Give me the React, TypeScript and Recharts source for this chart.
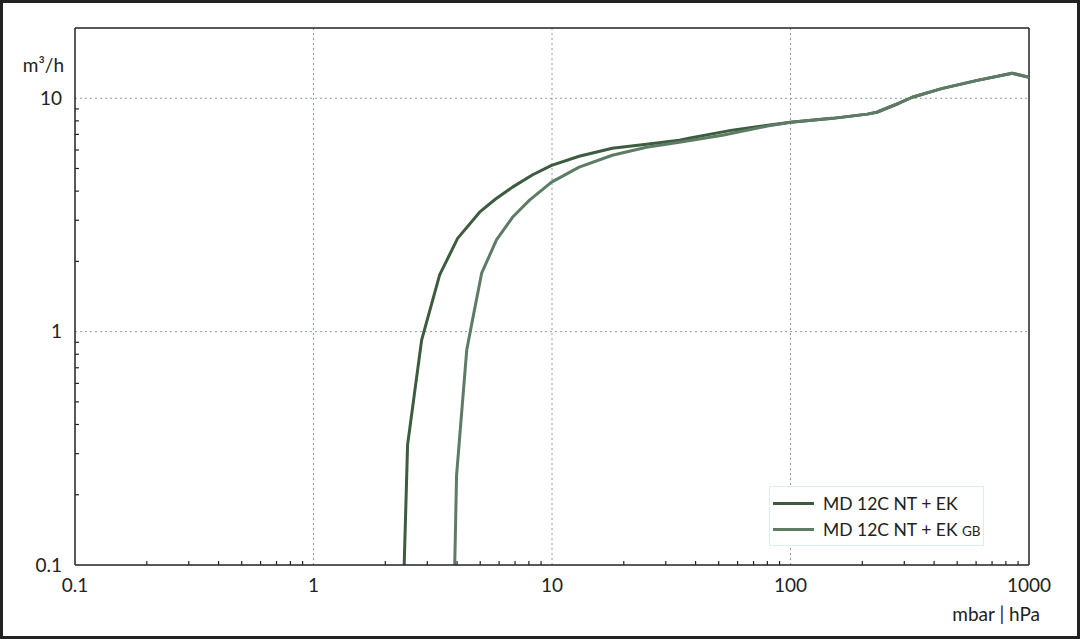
import React from "react"
import { LineChart, Line, XAxis, YAxis, ReferenceLine, Legend } from "recharts"

// pressure in mbar | hPa, flow in m³/h
const pressureA = [2.4, 2.48, 2.84, 3.38, 4.02, 4.97, 5.8, 6.83, 8.3, 9.96, 13, 17.9, 24.9, 34.2, 38, 57, 100, 150, 210, 230, 285, 324, 430, 600, 850, 1000]
const flowA = [0.1, 0.327, 0.92, 1.75, 2.51, 3.25, 3.7, 4.16, 4.7, 5.16, 5.64, 6.11, 6.35, 6.61, 6.76, 7.3, 7.89, 8.2, 8.55, 8.71, 9.52, 10.1, 11.0, 11.9, 12.8, 12.3]

const pressureB = [3.91, 3.98, 4.39, 4.64, 5.07, 5.85, 6.83, 8.05, 9.96, 13, 17.9, 24.9, 34.2, 51.8, 80, 100, 150, 210, 230, 285, 324, 430, 600, 850, 1000]
const flowB = [0.1, 0.243, 0.834, 1.12, 1.78, 2.47, 3.09, 3.66, 4.37, 5.07, 5.7, 6.17, 6.48, 6.94, 7.6, 7.89, 8.2, 8.55, 8.71, 9.52, 10.1, 11.0, 11.9, 12.8, 12.3]

const xDecades = [0.1, 1, 10, 100, 1000]
const yDecades = [0.1, 1, 10]
const xMinor = [0.2, 0.3, 0.4, 0.5, 0.6, 0.7, 0.8, 0.9, 2, 3, 4, 5, 6, 7, 8, 9, 20, 30, 40, 50, 60, 70, 80, 90, 200, 300, 400, 500, 600, 700, 800, 900]
const yMinor = [0.2, 0.3, 0.4, 0.5, 0.6, 0.7, 0.8, 0.9, 2, 3, 4, 5, 6, 7, 8, 9]
const xGrid = [1, 10, 100]
const yGrid = [1, 10]

const nameA = "MD 12C NT + EK"
const nameB = "MD 12C NT + EK GB"

const dataA = pressureA.map((p, i) => ({ p, q: flowA[i] }))
const dataB = pressureB.map((p, i) => ({ p, q: flowB[i] }))
const xTicks = [...xDecades, ...xMinor].sort((a, b) => a - b)
const yTicks = [...yDecades, ...yMinor].sort((a, b) => a - b)

const FONT = "Lato, 'Open Sans', sans-serif"
const INK = "#222"
const GRID = "#8f9c9c"
const X_MARGIN = 13
const Y_MARGIN = 13

function XTick(props: any) {
  const { x, y, payload } = props
  const v = payload.value
  if (xDecades.includes(v)) {
    return (
      <text x={x} y={y} dy="0.75em" textAnchor="middle" fill={INK} fontSize={19} fontFamily={FONT}>
        {String(v)}
      </text>
    )
  }
  const base = y - X_MARGIN
  return <path d={`M${x},${base}V${base - 4}`} stroke={INK} strokeWidth={1.2} fill="none" />
}

function YTick(props: any) {
  const { x, y, payload } = props
  const v = payload.value
  if (yDecades.includes(v)) {
    return (
      <text x={x} y={y} dy="0.36em" textAnchor="end" fill={INK} fontSize={19} fontFamily={FONT}>
        {String(v)}
      </text>
    )
  }
  const base = x + Y_MARGIN
  return <path d={`M${base},${y}H${base + 4}`} stroke={INK} strokeWidth={1.2} fill="none" />
}

function LegendBox({ payload }: any) {
  return (
    <div style={{ border: "1px solid #d6f1f1", padding: "3px 2px 3px 3px", background: "#fff", fontFamily: FONT, fontSize: 17.5, color: INK }}>
      {(payload || []).map((e: any, i: number) => {
        const parts = String(e.value).split(" ")
        const last = parts[parts.length - 1]
        const small = last === "GB"
        return (
          <div key={i} style={{ display: "flex", alignItems: "center", height: 26 }}>
            <span style={{ width: 41, height: 3, background: e.color, display: "inline-block", marginRight: 9 }} />
            <span>
              {small ? parts.slice(0, -1).join(" ") + " " : e.value}
              {small && <span style={{ fontSize: 13.5 }}>{last}</span>}
            </span>
          </div>
        )
      })}
    </div>
  )
}

export default function App() {
  return (
    <div style={{ position: "absolute", left: 0, top: 0, width: 1080, height: 639, boxSizing: "border-box", border: "3px solid #222", background: "#fff" }}>
      <div style={{ position: "absolute", left: -3, top: -3 }}>
        <LineChart width={1080} height={639} margin={{ top: 28, right: 51, bottom: 44, left: 0 }}>
          {xGrid.map((v) => (
            <ReferenceLine key={"gx" + v} x={v} stroke={GRID} strokeDasharray="2 3" />
          ))}
          {yGrid.map((v) => (
            <ReferenceLine key={"gy" + v} y={v} stroke={GRID} strokeDasharray="2 3" />
          ))}
          <XAxis
            dataKey="p"
            type="number"
            scale="log"
            domain={[0.1, 1000]}
            allowDataOverflow
            ticks={xTicks}
            interval={0}
            tickLine={false}
            tickSize={0}
            tickMargin={X_MARGIN}
            height={30}
            axisLine={{ stroke: INK, strokeWidth: 1.5 }}
            tick={(p: any) => <XTick {...p} />}
          />
          <YAxis
            dataKey="q"
            type="number"
            scale="log"
            domain={[0.1, 20]}
            allowDataOverflow
            ticks={yTicks}
            interval={0}
            tickLine={false}
            tickSize={0}
            tickMargin={Y_MARGIN}
            width={75}
            axisLine={{ stroke: INK, strokeWidth: 1.5 }}
            tick={(p: any) => <YTick {...p} />}
          />
          <ReferenceLine y={20} stroke={INK} strokeWidth={1.5} />
          <ReferenceLine x={1000} stroke={INK} strokeWidth={1.5} />
          <Legend
            layout="vertical"
            verticalAlign="middle"
            align="center"
            content={<LegendBox />}
            wrapperStyle={{ left: 769, top: 486, width: "auto" }}
          />
          <Line data={dataA} dataKey="q" name={nameA} type="linear" stroke="#3c5b3f" strokeWidth={3} strokeLinejoin="round" dot={false} isAnimationActive={false} />
          <Line data={dataB} dataKey="q" name={nameB} type="linear" stroke="#5e7b65" strokeWidth={3} strokeLinejoin="round" dot={false} isAnimationActive={false} />
        </LineChart>
      </div>
      <div style={{ position: "absolute", right: 1080 - 3 - 64, top: 50, fontFamily: FONT, fontSize: 19, color: INK, whiteSpace: "nowrap" }}>m³/h</div>
      <div style={{ position: "absolute", right: 1080 - 3 - 1040, top: 599, fontFamily: FONT, fontSize: 19, color: INK, whiteSpace: "nowrap" }}>mbar | hPa</div>
    </div>
  )
}
